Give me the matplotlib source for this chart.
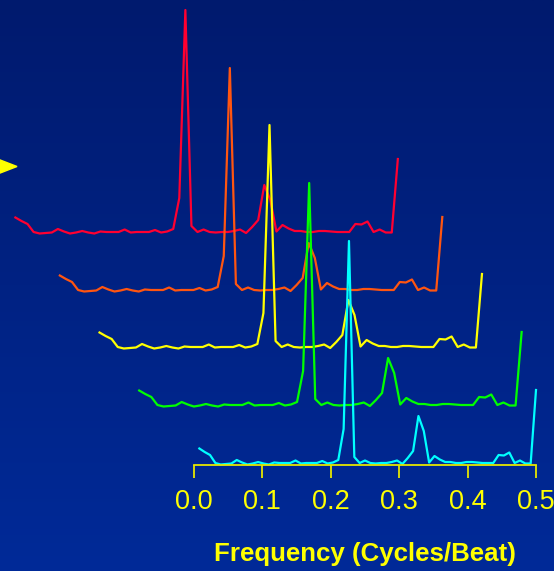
import numpy as np
import matplotlib
matplotlib.use("Agg")
import matplotlib.pyplot as plt
from matplotlib.colors import LinearSegmentedColormap
from matplotlib.patches import Polygon

plt.rcParams['font.family'] = ['Liberation Sans', 'DejaVu Sans']

# spectrum bins k/128, k = 1..64
freq = np.arange(1, 65) / 128
power = [16.5, 13, 10, 2, 0.5, 1, 1.5, 5, 2.5, 0.5,
         1.5, 3, 1.5, 0.5, 2.5, 2, 2, 2, 4.5, 1.5,
         2, 2, 2, 4, 1.5, 2.5, 5, 36, 224, 8,
         2, 4.5, 2, 1.5, 2, 2, 3, 4.5, 1, 7,
         14, 49, 34, 2.5, 9, 5.5, 3, 3, 2, 2,
         3, 3, 2.5, 2, 2, 2, 10, 9.5, 12.5, 2,
         4.5, 1.5, 1.5, 75]

# waterfall layers, back to front
layer_colors = ['#FF0030', '#FF5510', '#FFFF00', '#00FF00', '#00FFFF']
shift_x = [-0.270, -0.205, -0.147, -0.089, 0.0]
shift_y = [231, 173, 116, 58, 0]
stretch = [1.136, 1.136, 1.136, 1.136, 1.0]

ticks = [0.0, 0.1, 0.2, 0.3, 0.4, 0.5]
tick_labels = ['0.0', '0.1', '0.2', '0.3', '0.4', '0.5']

yellow = '#FFFF00'

fig = plt.figure(figsize=(5.54, 5.71), dpi=100)

# blue gradient background
bg = fig.add_axes([0, 0, 1, 1])
bg.axis('off')
grad = np.linspace(0, 1, 256).reshape(-1, 1)
cmap = LinearSegmentedColormap.from_list('bg', ['#001A6E', '#002A98'])
bg.imshow(grad, aspect='auto', cmap=cmap, extent=[0, 1, 0, 1])

ax = fig.add_axes([0, 0, 1, 1])
ax.patch.set_alpha(0)
ax.set_xlim(-0.28363, 0.52631)
ax.set_ylim(-106, 465)

for c, dx, dy, s in zip(layer_colors, shift_x, shift_y, stretch):
    ax.plot(dx + freq * s, np.array(power) + dy, color=c, lw=1.6)

for side in ['top', 'left', 'right']:
    ax.spines[side].set_visible(False)
ax.spines['bottom'].set_position(('data', 0))
ax.spines['bottom'].set_bounds(0, 0.5)
ax.spines['bottom'].set_color('#E6E600')
ax.spines['bottom'].set_linewidth(1.3)

ax.set_xticks(ticks, tick_labels)
ax.set_yticks([])
ax.tick_params(axis='x', colors='#E6E600', labelcolor=yellow, length=9,
               width=1.3, labelsize=19.5, pad=8)

# pointer on the left edge
arrow = Polygon([[-0.05, 4.13], [-0.05, 3.96], [0.17, 4.045]], closed=True,
                transform=fig.dpi_scale_trans, color=yellow)
fig.add_artist(arrow)

fig.text(365 / 554, 1 - 554 / 571, 'Frequency (Cycles/Beat)', ha='center',
         va='center', fontsize=18.6, fontweight='bold', color=yellow)

fig.savefig('out.png', dpi=100)
